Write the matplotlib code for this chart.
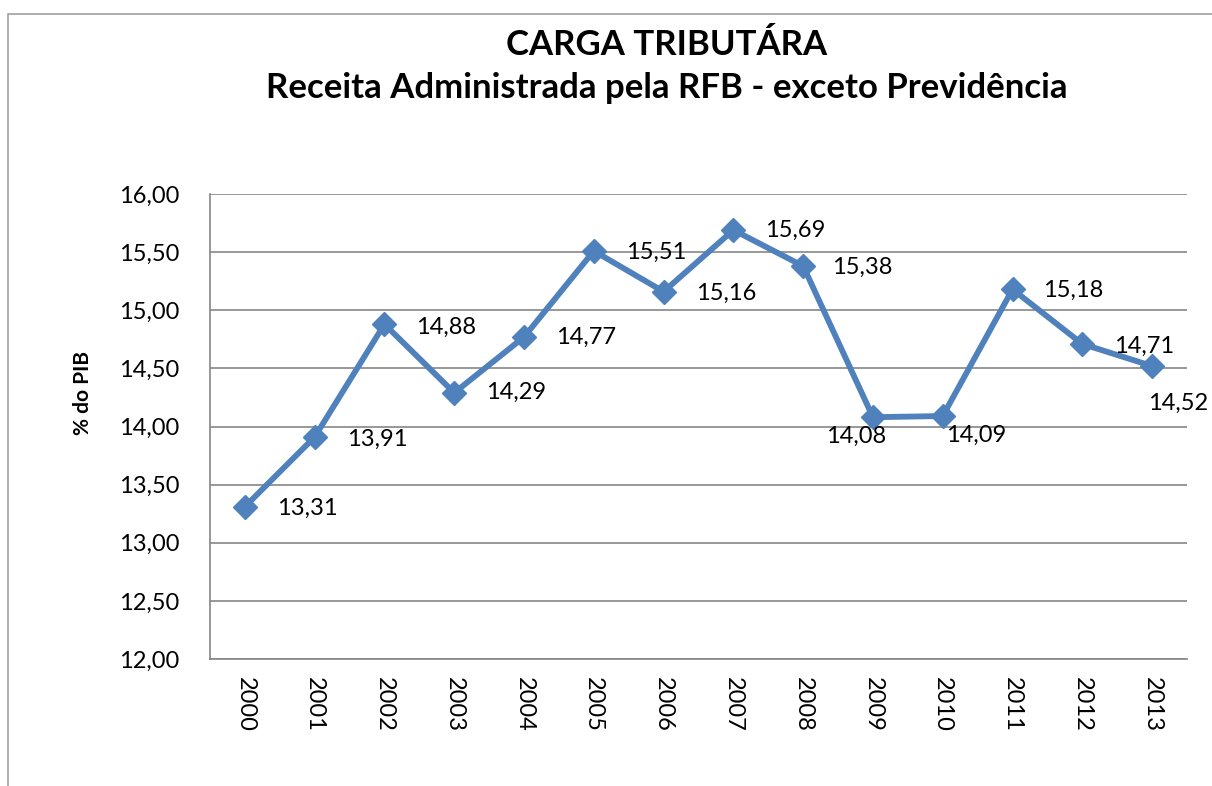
import matplotlib
matplotlib.use("Agg")
import matplotlib.pyplot as plt
import numpy as np
from matplotlib.patches import Rectangle

years = ["2000", "2001", "2002", "2003", "2004", "2005", "2006",
         "2007", "2008", "2009", "2010", "2011", "2012", "2013"]
carga = [13.31, 13.91, 14.88, 14.29, 14.77, 15.51, 15.16,
         15.69, 15.38, 14.08, 14.09, 15.18, 14.71, 14.52]

# deslocamento dos rótulos (pontos), ajustado à mão como no original
label_offsets = [(23, -1), (23, -2), (23, -2), (23, 0), (23, 0), (23, -1), (23, -1),
                 (23, 0), (21, -1), (-34, -14), (2, -14), (22, -1), (23, -2), (-3, -27)]

COLOR_LINE = "#4F81BD"
COLOR_GRID = "#868686"

plt.rcParams.update({
    "font.family": ["Lato", "DejaVu Sans"],
    "font.size": 17,
})

fig = plt.figure(figsize=(12.12, 7.86), dpi=100)
fig.patch.set_facecolor("white")

# moldura do gráfico (cortada à direita e embaixo)
fig.patches.append(Rectangle((8 / 1212, -0.05), 1.2, 1 - 14 / 786 + 0.05,
                             transform=fig.transFigure, fill=False,
                             edgecolor="#A0A0A0", linewidth=1.2))

ax = fig.add_axes([210 / 1212, 1 - 659 / 786, 977 / 1212, 465 / 786])

x = np.arange(len(years))
ax.plot(x, carga, color=COLOR_LINE, linewidth=4.2, marker="D",
        markersize=12, markerfacecolor=COLOR_LINE, markeredgecolor=COLOR_LINE,
        zorder=3)

for xi, v, off in zip(x, carga, label_offsets):
    ax.annotate(f"{v:.2f}".replace(".", ","), (xi, v), xytext=off,
                textcoords="offset points", ha="left", va="center",
                fontsize=17, color="black")

ax.set_xlim(-0.5, len(years) - 0.5)
ax.set_ylim(12, 16)
yt = np.arange(12, 16.01, 0.5)
ax.set_yticks(yt)
ax.set_yticklabels([f"{t:.2f}".replace(".", ",") for t in yt])
ax.set_xticks(x)
ax.set_xticklabels(years, rotation=270)

ax.tick_params(axis="x", length=0, pad=13, labelsize=17)
ax.tick_params(axis="y", length=0, pad=22, labelsize=17)

ax.yaxis.grid(True, color=COLOR_GRID, linewidth=1.2)
ax.set_axisbelow(True)
for s in ["top", "right"]:
    ax.spines[s].set_visible(False)
for s in ["left", "bottom"]:
    ax.spines[s].set_color(COLOR_GRID)
    ax.spines[s].set_linewidth(1.2)

ax.set_ylabel("% do PIB", fontsize=15, fontweight="bold")
ax.yaxis.set_label_coords(83 / 1212, 0.5, transform=fig.transFigure)
ax.yaxis.label.set_va("center")

fig.text(667 / 1212, 1 - 45 / 786, "CARGA TRIBUTÁRA", ha="center", va="center",
         fontsize=25, fontweight="bold")
fig.text(667 / 1212, 1 - 88 / 786, "Receita Administrada pela RFB - exceto Previdência",
         ha="center", va="center", fontsize=25, fontweight="bold")

fig.savefig("out.png", dpi=100, facecolor="white")
